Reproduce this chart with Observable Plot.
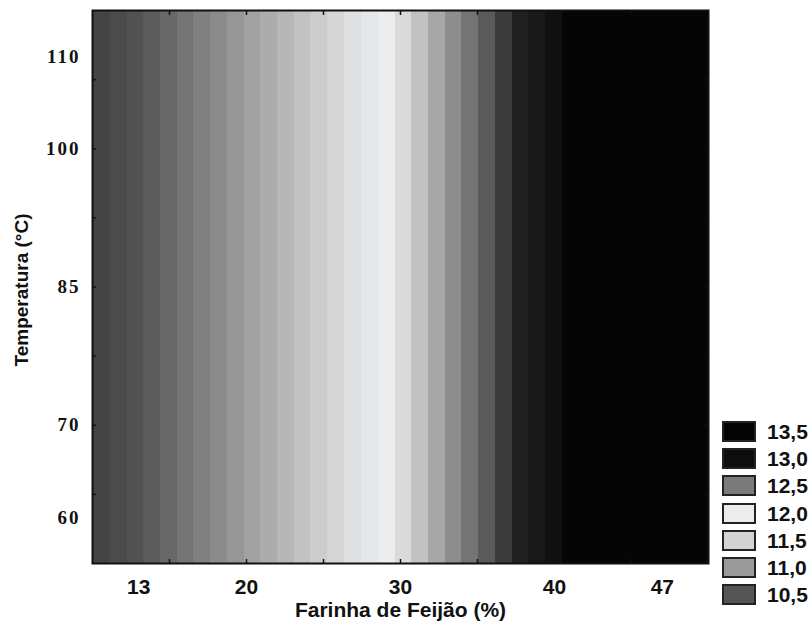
<!DOCTYPE html>
<html>
<head>
<meta charset="utf-8">
<script src="https://cdn.jsdelivr.net/npm/d3@7"></script>
<script src="https://cdn.jsdelivr.net/npm/@observablehq/plot@0.6"></script>
<style>
  html, body { margin: 0; padding: 0; background: #ffffff; }
  #wrap { position: relative; width: 812px; height: 629px; overflow: hidden; }
  #chart svg { display: block; }
  g[aria-label="y-axis tick label"] text { letter-spacing: 2px; }
  #legend { position: absolute; left: 722px; top: 418px; font-family: "Liberation Sans", Arial, sans-serif; font-weight: bold; font-size: 21px; color: #111; }
  .row { display: flex; align-items: center; height: 27.2px; }
  .sw { box-sizing: border-box; width: 34px; height: 21px; border: 2px solid #222; }
  .lab { margin-left: 11px; line-height: 1; }
</style>
</head>
<body>
<div id="wrap">
  <div id="chart"></div>
  <div id="legend"></div>
</div>
<script>
// ---- data ----
const xTickLabels = [13, 20, 30, 40, 47];
const yTickLabels = [60, 70, 85, 100, 110];
const xMinorTicks = [15, 20, 25, 30, 35, 40, 45];
const yMinorTicks = [62.5, 70, 77.5, 85, 92.5, 100, 107.5];

// contour band edges along Farinha de Feijão (%)
const bandEdges = [10, 11.17, 12.25, 13.32, 14.42, 15.49, 16.58, 17.66, 18.75, 19.84,
  20.92, 22.01, 23.10, 24.18, 25.29, 26.38, 27.47, 28.56, 29.66, 30.74,
  31.82, 32.91, 33.99, 35.08, 36.16, 37.25, 38.33, 39.42, 40.51, 50];
// response level of each band
const bandLevels = [10.3, 10.4, 10.5, 10.6, 10.7, 10.8, 10.9, 11.0, 11.1, 11.2,
  11.3, 11.4, 11.5, 11.6, 11.7, 11.8, 11.9, 12.0, 12.1, 12.2,
  12.3, 12.4, 12.5, 12.6, 12.7, 12.8, 12.9, 13.0, 13.5];

const legendLabels = ["13,5", "13,0", "12,5", "12,0", "11,5", "11,0", "10,5"];

// ---- styles ----
const shadePalette = ["#444444", "#4b4b4b", "#525252", "#5c5c5c", "#686868", "#747474",
  "#808080", "#8b8b8b", "#969696", "#a1a1a1", "#acacac", "#b7b7b7", "#c2c2c2",
  "#cccccc", "#d6d6d6", "#dfe0e1", "#e5e7e8", "#ebedef", "#dadad8", "#c2c2c2",
  "#a7a7a7", "#8d8d8d", "#747474", "#5a5a5a", "#3b3b3b", "#202020", "#181818",
  "#101010", "#050505"];
const legendShades = ["#040404", "#0d0d0d", "#7b7b7b", "#ececec", "#d3d3d3", "#9a9a9a", "#555555"];

const sansBold = {fontFamily: "Liberation Sans, Arial, sans-serif", fontWeight: "bold"};
const serifBold = {fontFamily: "Liberation Serif, Times New Roman, serif", fontWeight: "bold"};

const bands = bandLevels.map((level, i) => ({x1: bandEdges[i], x2: bandEdges[i + 1], level}));

const chart = Plot.plot({
  width: 812,
  height: 629,
  marginLeft: 92,
  marginRight: 104,
  marginTop: 10,
  marginBottom: 66,
  style: {background: "#ffffff", color: "#111"},
  x: {domain: [10, 50]},
  y: {domain: [55, 115]},
  color: {type: "ordinal", domain: bandLevels, range: shadePalette},
  marks: [
    Plot.rect(bands, {x1: "x1", x2: "x2", fill: "level", shapeRendering: "crispEdges"}),
    Plot.axisX(xMinorTicks, {anchor: "bottom", tickSize: -4, tickFormat: () => "", label: null, stroke: "#111", strokeWidth: 1.5}),
    Plot.axisX(xMinorTicks, {anchor: "top", tickSize: -4, tickFormat: () => "", label: null, stroke: "#111", strokeWidth: 1.5}),
    Plot.axisY(yMinorTicks, {anchor: "left", tickSize: -4, tickFormat: () => "", label: null, stroke: "#111", strokeWidth: 1.5}),
    Plot.axisY(yMinorTicks, {anchor: "right", tickSize: -4, tickFormat: () => "", label: null, stroke: "#111", strokeWidth: 1.5}),
    Plot.axisX(xTickLabels, {anchor: "bottom", tickSize: 0, tickPadding: 16, label: null, tickFormat: d => String(d), fontSize: 21, ...sansBold, fill: "#111"}),
    Plot.axisY(yTickLabels, {anchor: "left", tickSize: 0, tickPadding: 12, label: null, tickFormat: d => String(d), fontSize: 19, ...serifBold, fill: "#111"}),
    Plot.frame({stroke: "#111", strokeWidth: 2}),
    Plot.text(["Farinha de Feijão (%)"], {text: d => d, frameAnchor: "bottom", textAnchor: "middle", dy: 47, lineAnchor: "middle", fontSize: 21, ...sansBold, fill: "#111"}),
    Plot.text(["Temperatura (°C)"], {text: d => d, frameAnchor: "left", textAnchor: "middle", dx: -71, dy: 3, rotate: -90, lineAnchor: "middle", fontSize: 19, ...sansBold, fill: "#111"})
  ]
});
document.getElementById("chart").append(chart);

// legend
const legend = document.getElementById("legend");
legendLabels.forEach((lab, i) => {
  const row = document.createElement("div");
  row.className = "row";
  const sw = document.createElement("div");
  sw.className = "sw";
  sw.style.background = legendShades[i];
  const t = document.createElement("span");
  t.className = "lab";
  t.textContent = lab;
  row.append(sw, t);
  legend.append(row);
});
</script>
</body>
</html>
